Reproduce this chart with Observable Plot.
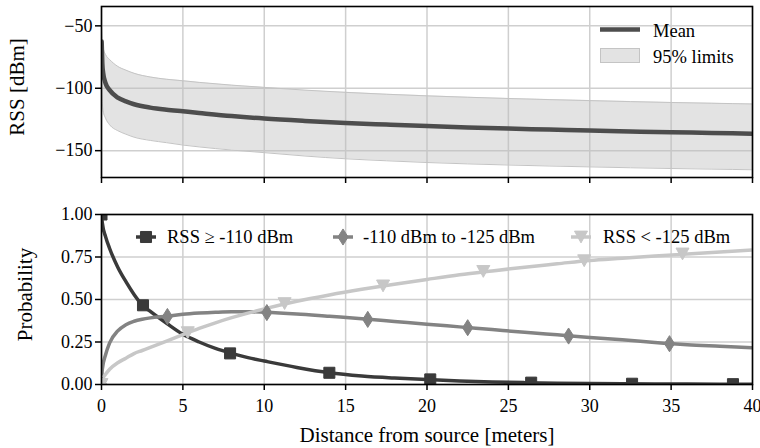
<!DOCTYPE html>
<html><head><meta charset="utf-8">
<script src="https://cdn.jsdelivr.net/npm/d3@7"></script>
<script src="https://cdn.jsdelivr.net/npm/@observablehq/plot@0.6"></script>
<style>
body{margin:0;background:#fff;}
#chart{position:relative;width:760px;height:448px;font-family:'Liberation Serif','Times New Roman',serif;}
#chart svg{position:absolute;left:0;}
#chart svg text{font-family:'Liberation Serif','Times New Roman',serif;}
</style></head><body><div id="chart"></div>
<script>
// ---- top panel data (distance in meters, RSS in dBm) ----
const distTop  = [0.01, 0.05, 0.1, 0.25, 0.5, 1, 1.5, 2, 3, 4, 5, 6, 8, 10, 12.5, 15, 17.5, 20, 22.5, 25, 27.5, 30, 32.5, 35, 37.5, 40];
const rssMean  = [-62.5, -80, -87.5, -96, -101.5, -107.5, -110.5, -112.8, -115.5, -117.2, -118.5, -119.8, -122.3, -124.3, -126.2, -127.8, -129.1, -130.3, -131.4, -132.3, -133.1, -133.9, -134.6, -135.2, -135.8, -136.4];
const rssUpper = [-52, -62, -67.5, -73, -77, -82.5, -85.5, -88, -91, -92.8, -94, -95.3, -97.5, -99.3, -101.5, -103.3, -104.8, -106.1, -107.2, -108.2, -109.1, -109.9, -110.7, -111.4, -112, -112.6];
const rssLower = [-95, -112, -118, -124, -129.3, -134, -136.8, -139.2, -141.8, -143.6, -145.5, -147, -149.5, -151.6, -154.3, -156.5, -158.1, -159.5, -160.6, -161.5, -162.3, -163, -163.7, -164.3, -164.8, -165.3];

// ---- bottom panel data (probabilities) ----
const distProb = [0, 0.05, 0.25, 0.5, 1, 1.5, 2, 2.5, 3, 4, 5, 6, 7, 8, 9, 10, 12, 14, 16, 18, 20, 22, 24, 26, 28, 30, 32, 34, 36, 38, 40];
const probHigh = [1.0, 0.95, 0.87, 0.80, 0.69, 0.605, 0.53, 0.468, 0.43, 0.36, 0.295, 0.25, 0.212, 0.183, 0.158, 0.138, 0.10, 0.069, 0.05, 0.038, 0.029, 0.021, 0.015, 0.011, 0.008, 0.006, 0.0045, 0.0035, 0.0028, 0.0022, 0.0018];
const probMid  = [0, 0.09, 0.175, 0.245, 0.315, 0.352, 0.372, 0.384, 0.392, 0.402, 0.413, 0.42, 0.425, 0.428, 0.428, 0.425, 0.415, 0.401, 0.387, 0.371, 0.355, 0.339, 0.323, 0.307, 0.292, 0.277, 0.263, 0.247, 0.234, 0.225, 0.216];
const probLow  = [0, 0.03, 0.06, 0.09, 0.128, 0.155, 0.182, 0.2, 0.218, 0.255, 0.293, 0.33, 0.363, 0.393, 0.42, 0.445, 0.49, 0.527, 0.56, 0.59, 0.618, 0.645, 0.668, 0.69, 0.71, 0.73, 0.743, 0.756, 0.768, 0.78, 0.792];

// marker positions along each curve
const markHighX = [0, 2.55, 7.9, 14.0, 20.2, 26.4, 32.6, 38.8];
const markHighY = [1.0, 0.466, 0.183, 0.069, 0.03, 0.011, 0.0045, 0.002];
const markMidX  = [0, 4.05, 10.16, 16.36, 22.5, 28.7, 34.9];
const markMidY  = [0, 0.40, 0.423, 0.383, 0.334, 0.285, 0.24];
const markLowX  = [0, 5.3, 11.25, 17.3, 23.46, 29.66, 35.7];
const markLowY  = [0, 0.305, 0.476, 0.58, 0.665, 0.728, 0.768];

// ---- labels & ticks ----
const xTicks = [0, 5, 10, 15, 20, 25, 30, 35, 40];
const yTicksTop = [-50, -100, -150];
const yTicksBottom = [0, 0.25, 0.5, 0.75, 1];
const seriesNames = ["RSS \u2265 -110 dBm", "-110 dBm to -125 dBm", "RSS < -125 dBm"];
const topLegendNames = ["Mean", "95% limits"];
const xLabel = "Distance from source [meters]";
const yLabelTop = "RSS [dBm]";
const yLabelBottom = "Probability";

// ---- styles ----
const FONT = "'Liberation Serif', 'Times New Roman', serif";
const TICK_FS = 18, LABEL_FS = 21, LEG_FS = 18.5;
const cDark = "#3a3a3a", cMid = "#838383", cLight = "#c7c7c7", cMean = "#4d4d4d";
const bandFill = "#bdbdbd", bandOpacity = 0.42, bandEdge = "#c4c4c4";
const gridStyle = {stroke: "#cfcfcf", strokeOpacity: 1, strokeWidth: 1.5};

const thinDiamond = {draw(ctx, size) { const r = Math.sqrt(size / Math.PI); ctx.moveTo(0, -1.3 * r); ctx.lineTo(0.82 * r, 0); ctx.lineTo(0, 1.3 * r); ctx.lineTo(-0.82 * r, 0); ctx.closePath(); }};
const triDown = {draw(ctx, size) { const r = Math.sqrt(size / Math.PI); ctx.moveTo(-1.05 * r, -0.95 * r); ctx.lineTo(1.05 * r, -0.95 * r); ctx.lineTo(0, 0.95 * r); ctx.closePath(); }};
const square = {draw(ctx, size) { const r = Math.sqrt(size / Math.PI) * 0.89; ctx.moveTo(-r, -r); ctx.lineTo(r, -r); ctx.lineTo(r, r); ctx.lineTo(-r, r); ctx.closePath(); }};

const topData = distTop.map((d, i) => ({d, mean: rssMean[i], hi: rssUpper[i], lo: rssLower[i]}));
const probSeries = [probHigh, probMid, probLow];
const probData = probSeries.flatMap((arr, k) => distProb.map((d, i) => ({d, p: arr[i], s: seriesNames[k]})));
const markSets = [[markHighX, markHighY], [markMidX, markMidY], [markLowX, markLowY]];
const colors = [cDark, cMid, cLight];
const symbols = [square, thinDiamond, triDown];

const chart = document.getElementById("chart");

// ---- top panel ----
const topPlot = Plot.plot({
  width: 760, height: 190,
  marginLeft: 101, marginRight: 8, marginTop: 6, marginBottom: 13,
  style: {fontFamily: FONT, fontSize: TICK_FS + "px", background: "transparent", color: "black"},
  x: {domain: [0, 40]},
  y: {domain: [-171.5, -34.5]},
  marks: [
    Plot.gridX(xTicks, gridStyle),
    Plot.gridY(yTicksTop, gridStyle),
    Plot.areaY(topData, {x: "d", y1: "lo", y2: "hi", fill: bandFill, fillOpacity: bandOpacity, curve: "monotone-x", clip: true}),
    Plot.lineY(topData, {x: "d", y: "hi", stroke: bandEdge, strokeWidth: 1, curve: "monotone-x", clip: true}),
    Plot.lineY(topData, {x: "d", y: "lo", stroke: bandEdge, strokeWidth: 1, curve: "monotone-x", clip: true}),
    Plot.lineY(topData, {x: "d", y: "mean", stroke: cMean, strokeWidth: 4.5, curve: "monotone-x", clip: true}),
    Plot.axisX({ticks: xTicks, tickSize: 6, tickFormat: () => "", label: null, stroke: "black", strokeWidth: 1.5}),
    Plot.axisY({ticks: yTicksTop, tickSize: 6, tickPadding: 3, label: null, stroke: "black", strokeWidth: 1.5, fontSize: TICK_FS}),
    Plot.frame({stroke: "black", strokeWidth: 1.6}),
    Plot.text([yLabelTop], {frameAnchor: "left", rotate: -90, dx: -92, dy: -5, textAnchor: "middle", lineAnchor: "top", text: d => d, fontSize: LABEL_FS})
  ]
});
topPlot.style.top = "0px";
chart.appendChild(topPlot);

// ---- bottom panel ----
const botMarks = [
  Plot.gridX(xTicks, gridStyle),
  Plot.gridY(yTicksBottom, gridStyle)
];
probSeries.forEach((arr, k) => {
  botMarks.push(Plot.lineY(probData.filter(r => r.s === seriesNames[k]), {x: "d", y: "p", stroke: colors[k], strokeWidth: 3.5, curve: "monotone-x", clip: true}));
});
markSets.forEach(([mx, my], k) => {
  botMarks.push(Plot.dot(mx.map((x, i) => ({x, y: my[i]})), {x: "x", y: "y", symbol: symbols[k], r: 6.2, fill: colors[k], stroke: colors[k], strokeWidth: 1, clip: true}));
});
botMarks.push(
  Plot.axisX({ticks: xTicks, tickSize: 6, tickPadding: 9, label: null, stroke: "black", strokeWidth: 1.5, fontSize: TICK_FS}),
  Plot.axisY({ticks: yTicksBottom, tickSize: 6, tickPadding: 3, tickFormat: d3.format(".2f"), label: null, stroke: "black", strokeWidth: 1.5, fontSize: TICK_FS}),
  Plot.frame({stroke: "black", strokeWidth: 1.6}),
  Plot.text([yLabelBottom], {frameAnchor: "left", rotate: -90, dx: -84, dy: -5, textAnchor: "middle", lineAnchor: "top", text: d => d, fontSize: LABEL_FS}),
  Plot.text([xLabel], {frameAnchor: "bottom", dy: 43, textAnchor: "middle", lineAnchor: "top", text: d => d, fontSize: LABEL_FS})
);
const botPlot = Plot.plot({
  width: 760, height: 258,
  marginLeft: 101, marginRight: 8, marginTop: 24, marginBottom: 64,
  style: {fontFamily: FONT, fontSize: TICK_FS + "px", background: "transparent", color: "black"},
  x: {domain: [0, 40]},
  y: {domain: [0, 1]},
  marks: botMarks
});
botPlot.style.top = "190px";
chart.appendChild(botPlot);

// ---- legends (overlay) ----
const ov = d3.select(chart).append("svg").attr("width", 760).attr("height", 448)
  .style("top", "0px").style("pointer-events", "none")
  .style("font-family", FONT).attr("font-size", LEG_FS);
// top legend
ov.append("line").attr("x1", 600).attr("x2", 640).attr("y1", 29.5).attr("y2", 29.5).attr("stroke", cMean).attr("stroke-width", 4.5);
ov.append("text").attr("x", 653).attr("y", 36.5).text(topLegendNames[0]);
ov.append("rect").attr("x", 600.5).attr("y", 48.5).attr("width", 39).attr("height", 14)
  .attr("fill", bandFill).attr("fill-opacity", bandOpacity).attr("stroke", bandEdge).attr("stroke-width", 1);
ov.append("text").attr("x", 653).attr("y", 62.5).text(topLegendNames[1]);
// bottom legend
const legX = [136, 333, 571], legTextX = [167, 363, 603];
seriesNames.forEach((name, k) => {
  const g = ov.append("g");
  g.append("line").attr("x1", legX[k]).attr("x2", legX[k] + 20).attr("y1", 237).attr("y2", 237).attr("stroke", colors[k]).attr("stroke-width", 3.5);
  g.append("path").attr("transform", `translate(${legX[k] + 10},237)`)
    .attr("d", d3.symbol(symbols[k], Math.PI * 6.2 * 6.2)()).attr("fill", colors[k]).attr("stroke", colors[k]);
  g.append("text").attr("x", legTextX[k]).attr("y", 243).text(name);
});
</script></body></html>
